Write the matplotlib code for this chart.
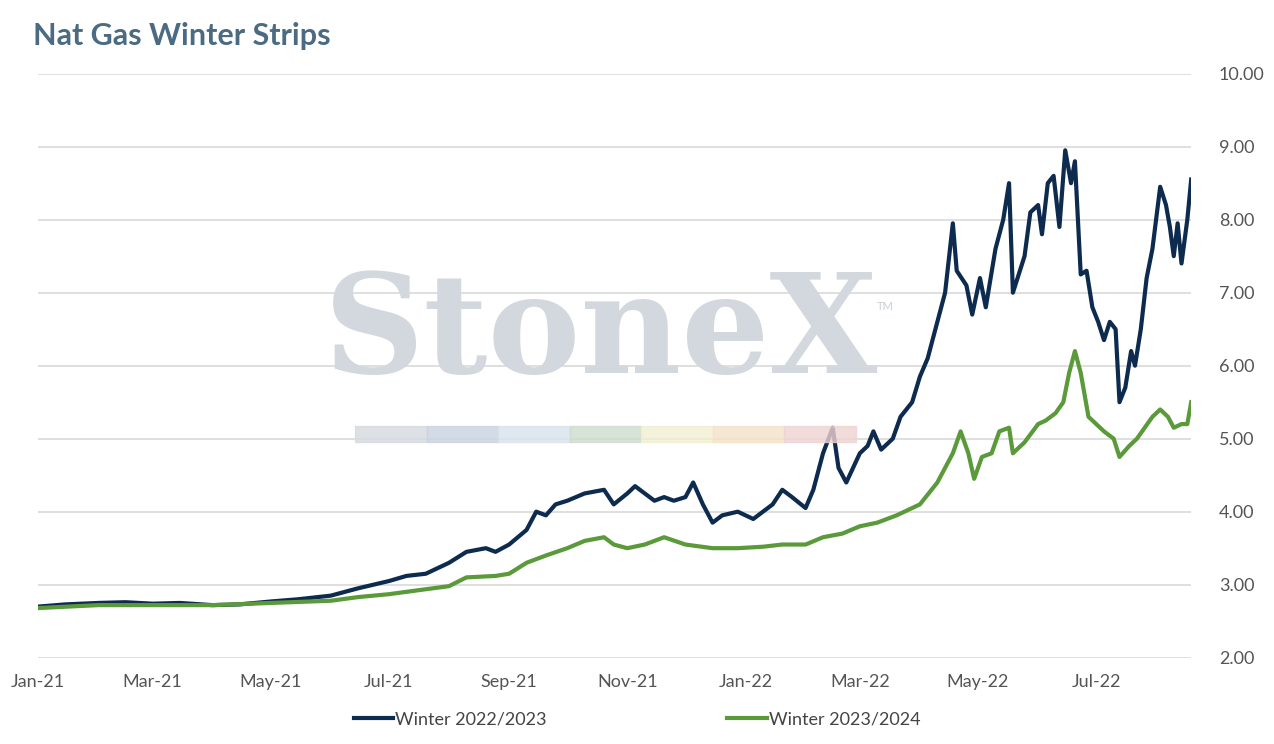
import numpy as np
import pandas as pd
import matplotlib
matplotlib.use("Agg")
import matplotlib.pyplot as plt
import matplotlib.dates as mdates

plt.rcParams['font.family'] = ['Lato', 'DejaVu Sans']

winter_2223 = [
    ("2021-01-01", 2.70), ("2021-01-15", 2.73), ("2021-02-01", 2.75), ("2021-02-15", 2.76),
    ("2021-03-01", 2.74), ("2021-03-15", 2.75), ("2021-04-01", 2.72), ("2021-04-15", 2.73),
    ("2021-05-01", 2.77), ("2021-05-15", 2.80), ("2021-06-01", 2.85), ("2021-06-15", 2.95),
    ("2021-07-01", 3.05), ("2021-07-10", 3.12), ("2021-07-20", 3.15), ("2021-08-01", 3.30),
    ("2021-08-10", 3.45), ("2021-08-20", 3.50), ("2021-08-25", 3.45), ("2021-09-01", 3.55),
    ("2021-09-10", 3.75), ("2021-09-15", 4.00), ("2021-09-20", 3.95), ("2021-09-25", 4.10),
    ("2021-10-01", 4.15), ("2021-10-10", 4.25), ("2021-10-20", 4.30), ("2021-10-25", 4.10),
    ("2021-11-01", 4.25), ("2021-11-05", 4.35), ("2021-11-10", 4.25), ("2021-11-15", 4.15),
    ("2021-11-20", 4.20), ("2021-11-25", 4.15), ("2021-12-01", 4.20), ("2021-12-05", 4.40),
    ("2021-12-10", 4.10), ("2021-12-15", 3.85), ("2021-12-20", 3.95), ("2021-12-28", 4.00),
    ("2022-01-05", 3.90), ("2022-01-10", 4.00), ("2022-01-15", 4.10), ("2022-01-20", 4.30),
    ("2022-01-25", 4.20), ("2022-02-01", 4.05), ("2022-02-05", 4.30), ("2022-02-10", 4.80),
    ("2022-02-15", 5.15), ("2022-02-18", 4.60), ("2022-02-22", 4.40), ("2022-03-01", 4.80),
    ("2022-03-05", 4.90), ("2022-03-08", 5.10), ("2022-03-12", 4.85), ("2022-03-18", 5.00),
    ("2022-03-22", 5.30), ("2022-03-28", 5.50), ("2022-04-01", 5.85), ("2022-04-05", 6.10),
    ("2022-04-10", 6.60), ("2022-04-14", 7.00), ("2022-04-18", 7.95), ("2022-04-20", 7.30),
    ("2022-04-25", 7.10), ("2022-04-28", 6.70), ("2022-05-02", 7.20), ("2022-05-05", 6.80),
    ("2022-05-10", 7.60), ("2022-05-14", 8.00), ("2022-05-17", 8.50), ("2022-05-19", 7.00),
    ("2022-05-25", 7.50), ("2022-05-28", 8.10), ("2022-06-01", 8.20), ("2022-06-03", 7.80),
    ("2022-06-06", 8.50), ("2022-06-09", 8.60), ("2022-06-12", 7.90), ("2022-06-15", 8.95),
    ("2022-06-18", 8.50), ("2022-06-20", 8.80), ("2022-06-23", 7.25), ("2022-06-26", 7.30),
    ("2022-06-29", 6.80), ("2022-07-02", 6.60), ("2022-07-05", 6.35), ("2022-07-08", 6.60),
    ("2022-07-11", 6.50), ("2022-07-13", 5.50), ("2022-07-16", 5.70), ("2022-07-19", 6.20),
    ("2022-07-21", 6.00), ("2022-07-24", 6.50), ("2022-07-27", 7.20), ("2022-07-30", 7.60),
    ("2022-08-03", 8.45), ("2022-08-06", 8.20), ("2022-08-08", 7.90), ("2022-08-10", 7.50),
    ("2022-08-12", 7.95), ("2022-08-14", 7.40), ("2022-08-17", 8.00), ("2022-08-19", 8.55),
]

winter_2324 = [
    ("2021-01-01", 2.68), ("2021-02-01", 2.72), ("2021-03-01", 2.72), ("2021-04-01", 2.72),
    ("2021-05-01", 2.75), ("2021-06-01", 2.78), ("2021-06-15", 2.83), ("2021-07-01", 2.87),
    ("2021-07-15", 2.92), ("2021-08-01", 2.98), ("2021-08-10", 3.10), ("2021-08-25", 3.12),
    ("2021-09-01", 3.15), ("2021-09-10", 3.30), ("2021-09-20", 3.40), ("2021-10-01", 3.50),
    ("2021-10-10", 3.60), ("2021-10-20", 3.65), ("2021-10-25", 3.55), ("2021-11-01", 3.50),
    ("2021-11-10", 3.55), ("2021-11-20", 3.65), ("2021-12-01", 3.55), ("2021-12-15", 3.50),
    ("2021-12-28", 3.50), ("2022-01-10", 3.52), ("2022-01-20", 3.55), ("2022-02-01", 3.55),
    ("2022-02-10", 3.65), ("2022-02-20", 3.70), ("2022-03-01", 3.80), ("2022-03-10", 3.85),
    ("2022-03-20", 3.95), ("2022-04-01", 4.10), ("2022-04-10", 4.40), ("2022-04-18", 4.80),
    ("2022-04-22", 5.10), ("2022-04-26", 4.80), ("2022-04-29", 4.45), ("2022-05-03", 4.75),
    ("2022-05-08", 4.80), ("2022-05-12", 5.10), ("2022-05-17", 5.15), ("2022-05-19", 4.80),
    ("2022-05-25", 4.95), ("2022-06-01", 5.20), ("2022-06-05", 5.25), ("2022-06-10", 5.35),
    ("2022-06-14", 5.50), ("2022-06-17", 5.90), ("2022-06-20", 6.20), ("2022-06-23", 5.90),
    ("2022-06-27", 5.30), ("2022-07-01", 5.20), ("2022-07-05", 5.10), ("2022-07-10", 5.00),
    ("2022-07-13", 4.75), ("2022-07-18", 4.90), ("2022-07-22", 5.00), ("2022-07-26", 5.15),
    ("2022-07-30", 5.30), ("2022-08-03", 5.40), ("2022-08-07", 5.30), ("2022-08-10", 5.15),
    ("2022-08-14", 5.20), ("2022-08-17", 5.20), ("2022-08-19", 5.50),
]

tick_dates = ["2021-01-01", "2021-03-01", "2021-05-01", "2021-07-01", "2021-09-01",
              "2021-11-01", "2022-01-01", "2022-03-01", "2022-05-01", "2022-07-01"]
y_ticks = np.arange(2, 10.01, 1.0)

navy = "#0d2b4e"
green = "#5a9a3a"
title_col = "#4a6b82"

fig = plt.figure(figsize=(12.74, 7.44), dpi=100)
ax = fig.add_axes([0.03, 0.116, 0.905, 0.785])

for data, col, lab in [(winter_2223, navy, "Winter 2022/2023"),
                       (winter_2324, green, "Winter 2023/2024")]:
    d = pd.to_datetime([a for a, _ in data])
    v = [b for _, b in data]
    ax.plot(d, v, color=col, lw=3, label=lab, zorder=3)

ax.set_ylim(2, 10)
ax.set_xlim(pd.Timestamp("2021-01-01"), pd.Timestamp("2022-08-19"))
ax.set_yticks(y_ticks)
ax.set_yticklabels([f"{t:.2f}" for t in y_ticks])
ax.yaxis.tick_right()
ax.set_xticks(pd.to_datetime(tick_dates))
ax.xaxis.set_major_formatter(mdates.DateFormatter("%b-%y"))
ax.tick_params(length=0, labelsize=13, colors="#555555", pad=12)
ax.tick_params(axis="y", pad=20)
ax.grid(axis="y", color="#d9d9d9", lw=1.2)
for s in ax.spines.values():
    s.set_visible(False)

# watermark
fig.text(0.472, 0.55, "StoneX", fontsize=100, fontweight="bold", family="DejaVu Serif",
         color="#d3d8df", ha="center", va="center", zorder=0)
fig.text(0.695, 0.588, "TM", fontsize=8, color="#c9cfd6", ha="center", va="center")
band_cols = ["#d5d9de", "#c9d3e0", "#d8e3ec", "#cddccd", "#f3efd2", "#f4e2c9", "#efd3d3"]
for i, c in enumerate(band_cols):
    fig.patches.append(plt.Rectangle((0.279 + i * 0.0561, 0.406), 0.0561, 0.022,
                                     transform=fig.transFigure, color=c, alpha=0.8, zorder=0))

fig.text(0.026, 0.952, "Nat Gas Winter Strips", fontsize=22, fontweight="bold",
         color=title_col, ha="left", va="center")

leg = fig.legend(loc="lower center", bbox_to_anchor=(0.5, 0.0), ncol=2, frameon=False,
                 fontsize=13, handlelength=2.2, columnspacing=10, handletextpad=0.1)
for t in leg.get_texts():
    t.set_color("#444444")

fig.savefig("out.png", dpi=100)
